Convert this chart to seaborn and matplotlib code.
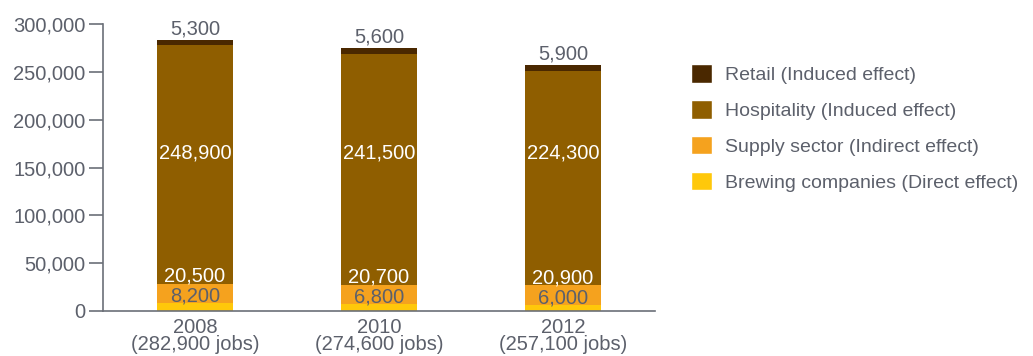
import pandas as pd
import matplotlib.pyplot as plt
import seaborn as sns
from matplotlib.patches import Patch
from matplotlib.ticker import FuncFormatter, FixedLocator

sns.set_style("white")
plt.rcParams['font.family'] = ['Liberation Sans', 'DejaVu Sans']

years = ['2008', '2010', '2012']
totals = ['282,900', '274,600', '257,100']
brewing = [8200, 6800, 6000]
supply = [20500, 20700, 20900]
hospitality = [248900, 241500, 224300]
retail = [5300, 5600, 5900]

series = ['Brewing companies (Direct effect)', 'Supply sector (Indirect effect)',
          'Hospitality (Induced effect)', 'Retail (Induced effect)']
colors = ['#ffc80a', '#f5a21e', '#8f5e00', '#4a2800']
txt = '#5c606b'

df = pd.DataFrame({'year': years, 'brewing': brewing, 'supply': supply,
                   'hospitality': hospitality, 'retail': retail})
df['c1'] = df['brewing']
df['c2'] = df['c1'] + df['supply']
df['c3'] = df['c2'] + df['hospitality']
df['c4'] = df['c3'] + df['retail']

fig = plt.figure(figsize=(10.33, 3.56), dpi=100)
ax = fig.add_axes([103/1033, 1-311/356, (655-103)/1033, (311-24)/356])

# stacked bars: tallest cumulative first
for col, c in zip(['c4', 'c3', 'c2', 'c1'], colors[::-1]):
    sns.barplot(data=df, x='year', y=col, color=c, width=0.41,
                saturation=1, ax=ax, errorbar=None, linewidth=0)

fs = 14.5
for i in range(len(years)):
    ax.text(i, df['c4'][i] + 1500, f"{retail[i]:,}", ha='center', va='bottom',
            color=txt, fontsize=fs)
    ax.text(i, 165000, f"{hospitality[i]:,}", ha='center', va='center',
            color='white', fontsize=fs)
    ax.text(i, df['c2'][i] - 2000, f"{supply[i]:,}", ha='center', va='bottom',
            color='white', fontsize=fs)
    ax.text(i, df['c1'][i] - 2000, f"{brewing[i]:,}", ha='center', va='bottom',
            color=txt, fontsize=fs)

ax.set_xlim(-0.5, 2.5)
ax.set_ylim(0, 300000)
ax.set_yticks(range(0, 300001, 50000))
ax.yaxis.set_major_formatter(FuncFormatter(lambda v, p: f"{int(v):,}"))
ax.set_xticks(range(len(years)))
ax.set_xticklabels([f"{y}\n({t} jobs)" for y, t in zip(years, totals)],
                   linespacing=0.85)
ax.xaxis.set_minor_locator(FixedLocator([0.5, 1.5, 2.5]))
ax.tick_params(axis='x', which='major', length=0, pad=5, labelsize=fs, labelcolor=txt)
ax.tick_params(axis='x', which='minor', direction='in', length=5, width=1.2, color='#6b6f78')
ax.tick_params(axis='y', direction='out', length=10, width=1.2, pad=2.5,
               labelsize=fs, labelcolor=txt, color='#6b6f78', left=True)
ax.set_xlabel('')
ax.set_ylabel('')
for s in ['top', 'right']:
    ax.spines[s].set_visible(False)
for s in ['left', 'bottom']:
    ax.spines[s].set_color('#6b6f78')
    ax.spines[s].set_linewidth(1.2)

handles = [Patch(facecolor=c, label=l) for c, l in zip(colors[::-1], series[::-1])]
leg = fig.legend(handles=handles, loc='upper left',
                 bbox_to_anchor=(691/1033, 1-64/356), frameon=False,
                 fontsize=14, handlelength=1.1, handleheight=1.1,
                 handletextpad=0.65, labelspacing=0.82, borderpad=0,
                 borderaxespad=0)
for t in leg.get_texts():
    t.set_color(txt)

plt.savefig('out.png', dpi=100)
